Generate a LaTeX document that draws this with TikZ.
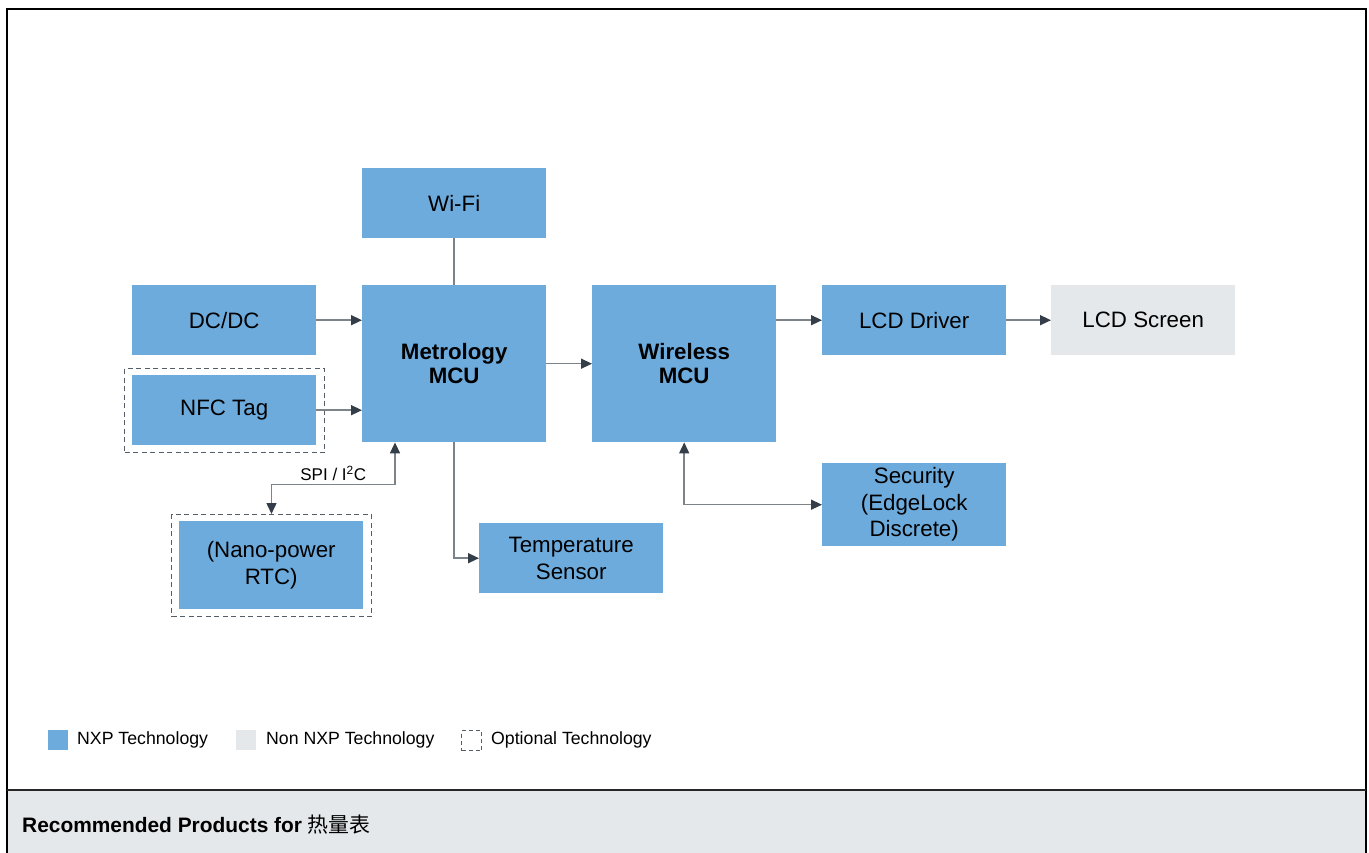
\documentclass[tikz,border=0pt]{standalone}
\usepackage{fontspec}
\setmainfont{Liberation Sans}
\newfontfamily\cjk{Noto Sans CJK SC}
\usetikzlibrary{arrows.meta,positioning,calc}
\definecolor{nxp}{HTML}{6DABDD}
\definecolor{nonnxp}{HTML}{E4E8EB}
\definecolor{linec}{HTML}{7D8489}
\definecolor{arrowc}{HTML}{343E48}
\definecolor{dashc}{HTML}{555E66}
\tikzset{
  box/.style={fill=nxp, minimum width=184pt, minimum height=70pt, inner sep=0pt, align=center, anchor=north west, font=\fontsize{22.3}{26.5}\selectfont},
  boldbox/.style={box, font=\fontsize{22.3}{23.5}\selectfont\bfseries},
  optbox/.style={draw=dashc, line width=1pt, dash pattern=on 5pt off 3.5pt, minimum width=200pt, inner sep=0pt, anchor=north west},
  conn/.style={draw=linec, line width=1.5pt},
  arr/.style={conn, -{Triangle[length=11pt,width=10pt,color=arrowc]}},
  arrboth/.style={conn, {Triangle[length=11pt,width=10pt,color=arrowc]}-{Triangle[length=11pt,width=10pt,color=arrowc]}},
  legtext/.style={anchor=west, inner sep=0pt, font=\fontsize{17.7}{20}\selectfont},
}
\begin{document}
\begin{tikzpicture}[x=1pt,y=1pt]
\useasboundingbox (0,0) rectangle (1369,-853);
% footer band and frame
\fill[nonnxp] (7,-791) rectangle (1366,-853);
\draw[black, line width=2.5pt] (7,-853) -- (7,-9) -- (1366,-9) -- (1366,-853);
\draw[black!85, line width=2pt] (7,-790) -- (1366,-790);
\node[anchor=west, inner sep=0pt, font=\fontsize{20.9}{24}\selectfont] (footer) at (22,-825) {\textbf{Recommended Products for} {\cjk 热量表}};

% optional dashed outlines
\node[optbox, minimum height=84pt] (nfcd) at (124,-368) {};
\node[optbox, minimum height=102pt] (rtcd) at (171,-514) {};

% boxes
\node[box] (wifi) at (362,-168) {Wi-Fi};
\node[box] (dc) at (132,-285) {DC/DC};
\node[box] (nfc) at (132,-375) {NFC Tag};
\node[boldbox, minimum height=157pt] (metro) at (362,-285) {Metrology\\MCU};
\node[boldbox, minimum height=157pt] (wless) at (592,-285) {Wireless\\MCU};
\node[box] (lcdd) at (822,-285) {LCD Driver};
\node[box, fill=nonnxp] (lcds) at (1051,-285) {LCD Screen};
\node[box, minimum height=83pt] (sec) at (822,-463) {Security\\(EdgeLock\\Discrete)};
\node[box] (temp) at (479,-523) {Temperature\\Sensor};
\node[box, minimum width=184pt, minimum height=88pt] (rtc) at (179,-521) {(Nano-power\\RTC)};

% connectors
\draw[conn] (wifi.south) -- (metro.north);
\draw[arr] (dc.east) -- (dc.east -| metro.west);
\draw[arr] (nfc.east) -- (nfc.east -| metro.west);
\draw[arr] (metro.east) -- (metro.east -| wless.west);
\draw[arr] (lcdd.west -| wless.east) -- (lcdd.west);
\draw[arr] (lcdd.east) -- (lcds.west);
\draw[arrboth] (wless.south) |- (sec.west);
\draw[arr] (metro.south) |- (temp.west);
\coordinate (spi) at ([xshift=33pt]metro.south west);
\draw[arrboth] (spi) -- ++(0,-42) -| node[pos=0.25, above=3pt, inner sep=0pt, font=\fontsize{17}{20}\selectfont] {SPI / I\textsuperscript{2}C} (rtcd.north);

% legend
\node[fill=nxp, minimum size=20pt, inner sep=0pt, anchor=north west] (lg1) at (48,-730) {};
\node[legtext] (lt1) at (77,-740) {NXP Technology};
\node[fill=nonnxp, minimum size=20pt, inner sep=0pt, anchor=north west] (lg2) at (236,-730) {};
\node[legtext] (lt2) at (266,-740) {Non NXP Technology};
\node[draw=dashc, line width=1pt, dash pattern=on 4pt off 3pt, minimum size=20pt, inner sep=0pt, anchor=north west] (lg3) at (461,-730) {};
\node[legtext] (lt3) at (491,-740) {Optional Technology};
\end{tikzpicture}
\end{document}
